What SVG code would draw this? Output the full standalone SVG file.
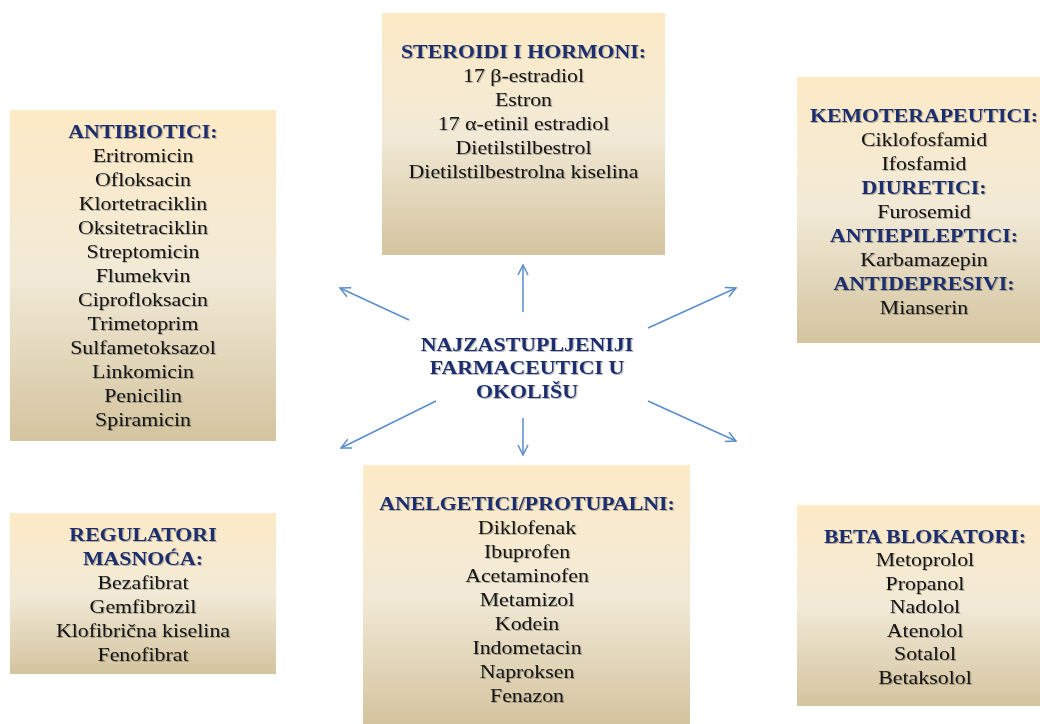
<svg xmlns="http://www.w3.org/2000/svg" width="1040" height="724" viewBox="0 0 1040 724">
<style>
.box{fill:url(#parch)}
.t{font-family:"Liberation Serif","Times New Roman",serif;font-size:19px;text-anchor:middle;fill:#141414;filter:url(#sh)}
.h{font-weight:bold;fill:#1c2f6e}
.c{stroke:#5b8dcc;stroke-width:1.5;fill:none;marker-end:url(#ah)}
</style>
<defs>
<linearGradient id="parch" x1="0" y1="0" x2="0" y2="1">
<stop offset="0" stop-color="#fdeac6"/>
<stop offset="0.5" stop-color="#f2ead7"/>
<stop offset="1" stop-color="#d4c49f"/>
</linearGradient>
<filter id="sh" x="-5%" y="-20%" width="110%" height="140%">
<feDropShadow dx="1" dy="1" stdDeviation="0.6" flood-color="#000" flood-opacity="0.28"/>
</filter>
<marker id="ah" viewBox="0 0 12 12" refX="11" refY="6" markerWidth="12" markerHeight="12" markerUnits="userSpaceOnUse" orient="auto">
<path d="M1,1 L11,6 L1,11" fill="none" stroke="#5b8dcc" stroke-width="1.5"/>
</marker>
</defs>
<rect width="1040" height="724" fill="#fff"/>

<g id="connectors">
<line class="c" x1="523" y1="312" x2="523" y2="265"/>
<line class="c" x1="409" y1="320" x2="340" y2="288"/>
<line class="c" x1="648" y1="328" x2="736" y2="288"/>
<line class="c" x1="436" y1="401" x2="341" y2="448"/>
<line class="c" x1="523" y1="418" x2="523" y2="455"/>
<line class="c" x1="648" y1="401" x2="736" y2="441"/>
</g>

<g id="center">
<g transform="translate(527 0) scale(1.15 1)">
<text class="t h" x="0" y="351">NAJZASTUPLJENIJI</text>
<text class="t h" x="0" y="374.5">FARMACEUTICI U</text>
<text class="t h" x="0" y="398">OKOLIŠU</text>
</g>
</g>

<g id="steroidi">
<rect class="box" x="382" y="13" width="283" height="242"/>
<g transform="translate(523.5 0) scale(1.15 1)">
<text class="t h" x="0" y="58">STEROIDI I HORMONI:</text>
<text class="t" x="0" y="82">17 β-estradiol</text>
<text class="t" x="0" y="106">Estron</text>
<text class="t" x="0" y="130">17 α-etinil estradiol</text>
<text class="t" x="0" y="154">Dietilstilbestrol</text>
<text class="t" x="0" y="178">Dietilstilbestrolna kiselina</text>
</g>
</g>

<g id="antibiotici">
<rect class="box" x="10" y="110" width="266" height="331"/>
<g transform="translate(143 0) scale(1.15 1)">
<text class="t h" x="0" y="138">ANTIBIOTICI:</text>
<text class="t" x="0" y="162">Eritromicin</text>
<text class="t" x="0" y="186">Ofloksacin</text>
<text class="t" x="0" y="210">Klortetraciklin</text>
<text class="t" x="0" y="234">Oksitetraciklin</text>
<text class="t" x="0" y="258">Streptomicin</text>
<text class="t" x="0" y="282">Flumekvin</text>
<text class="t" x="0" y="306">Ciprofloksacin</text>
<text class="t" x="0" y="330">Trimetoprim</text>
<text class="t" x="0" y="354">Sulfametoksazol</text>
<text class="t" x="0" y="378">Linkomicin</text>
<text class="t" x="0" y="402">Penicilin</text>
<text class="t" x="0" y="426">Spiramicin</text>
</g>
</g>

<g id="kemoterapeutici">
<rect class="box" x="797" y="77" width="243" height="266"/>
<g transform="translate(924 0) scale(1.15 1)">
<text class="t h" x="0" y="122">KEMOTERAPEUTICI:</text>
<text class="t" x="0" y="146">Ciklofosfamid</text>
<text class="t" x="0" y="170">Ifosfamid</text>
<text class="t h" x="0" y="194">DIURETICI:</text>
<text class="t" x="0" y="218">Furosemid</text>
<text class="t h" x="0" y="242">ANTIEPILEPTICI:</text>
<text class="t" x="0" y="266">Karbamazepin</text>
<text class="t h" x="0" y="290">ANTIDEPRESIVI:</text>
<text class="t" x="0" y="314">Mianserin</text>
</g>
</g>

<g id="regulatori">
<rect class="box" x="10" y="513" width="266" height="161"/>
<g transform="translate(143 0) scale(1.15 1)">
<text class="t h" x="0" y="541">REGULATORI</text>
<text class="t h" x="0" y="565">MASNOĆA:</text>
<text class="t" x="0" y="589">Bezafibrat</text>
<text class="t" x="0" y="613">Gemfibrozil</text>
<text class="t" x="0" y="637">Klofibrična kiselina</text>
<text class="t" x="0" y="661">Fenofibrat</text>
</g>
</g>

<g id="analgetici">
<rect class="box" x="363" y="465" width="327" height="259"/>
<g transform="translate(527 0) scale(1.15 1)">
<text class="t h" x="0" y="510">ANELGETICI/PROTUPALNI:</text>
<text class="t" x="0" y="534">Diklofenak</text>
<text class="t" x="0" y="558">Ibuprofen</text>
<text class="t" x="0" y="582">Acetaminofen</text>
<text class="t" x="0" y="606">Metamizol</text>
<text class="t" x="0" y="630">Kodein</text>
<text class="t" x="0" y="654">Indometacin</text>
<text class="t" x="0" y="678">Naproksen</text>
<text class="t" x="0" y="702">Fenazon</text>
</g>
</g>

<g id="beta">
<rect class="box" x="797" y="505" width="243" height="201"/>
<g transform="translate(925 0) scale(1.15 1)">
<text class="t h" x="0" y="543">BETA BLOKATORI:</text>
<text class="t" x="0" y="566.5">Metoprolol</text>
<text class="t" x="0" y="590">Propanol</text>
<text class="t" x="0" y="613.5">Nadolol</text>
<text class="t" x="0" y="637">Atenolol</text>
<text class="t" x="0" y="660.5">Sotalol</text>
<text class="t" x="0" y="684">Betaksolol</text>
</g>
</g>
</svg>
